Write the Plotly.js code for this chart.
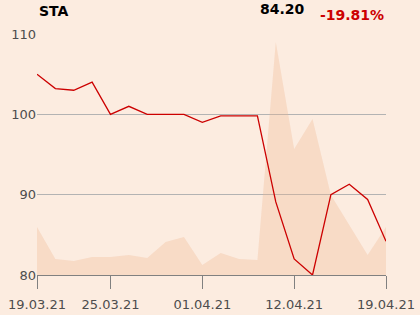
<!DOCTYPE html>
<html>
<head>
<meta charset="utf-8">
<script src="https://cdn.plot.ly/plotly-3.0.1.min.js"></script>
<style>
html,body{margin:0;padding:0;background:#fcece0;}
#chart{width:420px;height:315px;}
</style>
</head>
<body>
<div id="chart"></div>
<script>
var dates = ['19.03.21','22.03.21','23.03.21','24.03.21','25.03.21','26.03.21','29.03.21','30.03.21','31.03.21','01.04.21',
             '06.04.21','07.04.21','08.04.21','09.04.21','12.04.21','13.04.21','14.04.21','15.04.21','16.04.21','19.04.21'];
var prices = [105.0,103.2,103.0,104.0,100.0,101.0,100.0,100.0,100.0,99.0,
              99.8,99.8,99.8,89.1,82.0,80.0,90.0,91.3,89.4,84.2];
var volumes = [48,16,14,18,18,20,17,33,38,10,
               22,16,15,233,126,156,80,50,20,48];
var tickLabels = ['19.03.21','25.03.21','01.04.21','12.04.21','19.04.21'];
var ticker = 'STA';
var lastPrice = '84.20';
var change = '-19.81%';

var traces = [
  {x: dates, y: volumes, type:'scatter', mode:'lines', fill:'tozeroy',
   fillcolor:'rgba(240,180,140,0.3)', line:{width:0, color:'rgba(0,0,0,0)'}, yaxis:'y', hoverinfo:'skip'},
  {x: dates, y: prices, type:'scatter', mode:'lines', yaxis:'y2',
   line:{color:'#cc0000', width:1.3}}
];

var layout = {
  width:420, height:315,
  margin:{l:37, r:34, t:34, b:40},
  paper_bgcolor:'#fcece0', plot_bgcolor:'#fcece0',
  showlegend:false,
  font:{family:'DejaVu Sans', size:13, color:'#4d4d4d'},
  xaxis:{type:'category', range:[0,19], tickmode:'array', tickvals:tickLabels, ticktext:tickLabels,
         showgrid:false, zeroline:false, showline:true, linecolor:'#808080', linewidth:1,
         ticks:'outside', ticklen:13, tickcolor:'#808080', tickwidth:1, ticklabelstandoff:4,
         tickfont:{family:'DejaVu Sans', size:13, color:'#4d4d4d'}},
  yaxis:{range:[0,241], visible:false, showgrid:false, zeroline:false},
  yaxis2:{overlaying:'y', side:'left', range:[80,110], tickvals:[80,90,100,110], showgrid:true,
         gridcolor:'#b3b3b3', gridwidth:1, zeroline:false, showline:false, ticks:'',
         tickfont:{family:'DejaVu Sans', size:13, color:'#4d4d4d'}},
  annotations:[
    {text:'<b>'+ticker+'</b>', xref:'paper', yref:'paper', x:0, y:1, xanchor:'left', yanchor:'bottom',
     yshift:13, showarrow:false, font:{family:'DejaVu Sans', size:14, color:'#000000'}},
    {text:'<b>'+lastPrice+'</b>', xref:'paper', yref:'paper', x:0.704, y:1, xanchor:'center', yanchor:'bottom',
     yshift:15, showarrow:false, font:{family:'DejaVu Sans', size:14, color:'#000000'}},
    {text:'<b>'+change+'</b>', xref:'paper', yref:'paper', x:0.903, y:1, xanchor:'center', yanchor:'bottom',
     yshift:9, showarrow:false, font:{family:'DejaVu Sans', size:14, color:'#cc0000'}}
  ]
};
Plotly.newPlot('chart', traces, layout, {staticPlot:true, displayModeBar:false});
</script>
</body>
</html>
